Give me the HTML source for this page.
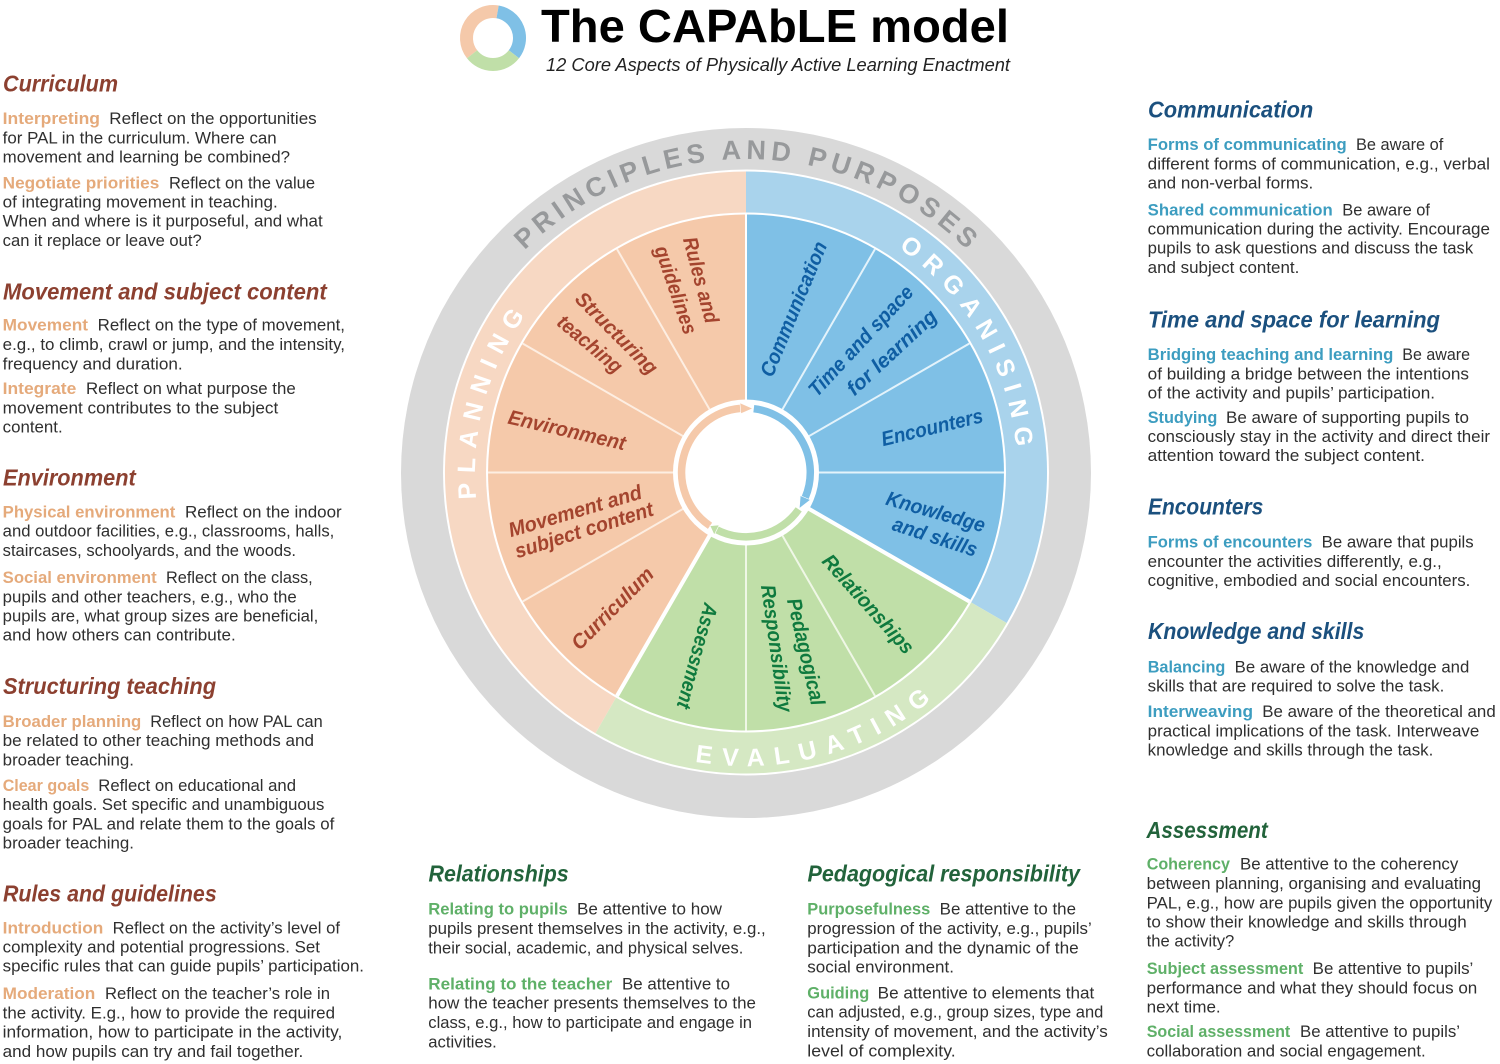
<!DOCTYPE html>
<html lang="en"><head><meta charset="utf-8"><title>The CAPAbLE model</title>
<style>
html,body{margin:0;padding:0;background:#fff}
svg{display:block}
text{font-family:"Liberation Sans",Arial,sans-serif;font-size:16.4px;fill:#2f2f2f}
.hd{font-size:23px;font-weight:bold;font-style:italic}
.ho{fill:#8c4030}.hb{fill:#1b507e}.hg{fill:#22633b}
.o,.b,.g{font-weight:bold}
.o{fill:#e5aa7b}.b{fill:#3d9dc0}.g{fill:#5fb068}
.l{font-size:20.5px;font-weight:bold;font-style:italic;text-anchor:middle}
.lo{fill:#a4442e}.lb{fill:#0f5ea3}.lg{fill:#0f7a3e}
.arc{font-weight:bold;font-size:25px;fill:#fff}
</style></head><body>
<svg xmlns="http://www.w3.org/2000/svg" width="1500" height="1064" viewBox="0 0 1500 1064">
<rect width="1500" height="1064" fill="#fff"/>

<!-- Logo -->
<g fill="none" stroke-width="13">
<path d="M472.1 54.3A26.5 26.5 0 0 1 497.6 11.9" stroke="#f5c9aa"/>
<path d="M497.6 11.9A26.5 26.5 0 0 1 513.9 54.3" stroke="#7fc0e6"/>
<path d="M513.9 54.3A26.5 26.5 0 0 1 472.1 54.3" stroke="#c0dfa8"/>
</g>
<text x="541" y="42" font-size="46" font-weight="bold" style="font-size:46px;fill:#000" textLength="468" lengthAdjust="spacingAndGlyphs">The CAPAbLE model</text>
<text x="546" y="71" style="font-size:18.5px;font-style:italic;fill:#222" textLength="464" lengthAdjust="spacingAndGlyphs">12 Core Aspects of Physically Active Learning Enactment</text>

<!-- Wheel -->
<circle cx="746" cy="473" r="345" fill="#d9d9d9"/>
<circle cx="746" cy="472.5" r="303" fill="#fff"/>
<path d="M746 472.5L595.5 733.2A301 301 0 0 1 746 171.5Z" fill="#f7d8c3"/>
<path d="M746 472.5L746 171.5A301 301 0 0 1 1006.7 623Z" fill="#a9d3ec"/>
<path d="M746 472.5L1006.7 623A301 301 0 0 1 595.5 733.2Z" fill="#d5e8c3"/>
<circle cx="746" cy="472.5" r="260" fill="#fff"/>
<path d="M746 472.5L617 695.9A258 258 0 0 1 746 214.5Z" fill="#f5c9aa"/>
<path d="M746 472.5L746 214.5A258 258 0 0 1 969.4 601.5Z" fill="#7fc0e6"/>
<path d="M746 472.5L969.4 601.5A258 258 0 0 1 617 695.9Z" fill="#c0dfa8"/>
<g stroke-width="2">
<path stroke="#fdeee2" d="M746 472.5L522.6 601.5M746 472.5L488 472.5M746 472.5L522.6 343.5M746 472.5L617 249.1"/>
<path stroke="#e4f3fb" d="M746 472.5L875 249.1M746 472.5L969.4 343.5M746 472.5L1004 472.5"/>
<path stroke="#eff7e6" d="M746 472.5L875 695.9M746 472.5L746 730.5"/>
</g>
<path stroke="#fff" stroke-width="4" d="M746 472.5L969.4 601.5M746 472.5L617 695.9"/>
<path stroke="#fff" stroke-width="2" d="M746 472.5L746 214.5"/>
<circle cx="746" cy="472.5" r="73" fill="#fff"/>
<g fill="none" stroke-width="7.5">
<path d="M710 525.8A64.3 64.3 0 0 1 740.4 408.4" stroke="#f5c9aa"/>
<path d="M753.8 408.7A64.3 64.3 0 0 1 805.2 497.6" stroke="#7fc0e6"/>
<path d="M798.7 509.4A64.3 64.3 0 0 1 716.8 529.8" stroke="#c0dfa8"/>
</g>
<g stroke="#fff" stroke-width="0.6">
<polygon points="740.9,413.7 739.9,402.8 752.7,408.5" fill="#f5c9aa"/>
<polygon points="800.3,495.6 810.4,499.9 799.3,508.5" fill="#7fc0e6"/>
<polygon points="719.2,525 714.2,534.9 710,525.8" fill="#c0dfa8"/>
</g>

<!-- Curved labels -->
<defs>
<path id="p1" d="M474.1 316A314 314 0 0 1 1017.9 316"/>
<path id="p2" d="M898.5 248A271 271 0 0 1 1000.7 565.2"/>
<path id="p3" d="M476.3 498.9A271 271 0 0 1 653.3 218"/>
<path id="p4" d="M695.1 761.6A293 293 0 0 0 1034.6 523.4"/>
</defs>
<text style="font-size:27px;font-weight:bold;fill:#97999b;letter-spacing:4.8px;text-anchor:middle"><textPath href="#p1" startOffset="50.3%">PRINCIPLES AND PURPOSES</textPath></text>
<text class="arc" style="letter-spacing:8.6px"><textPath href="#p2">ORGANISING</textPath></text>
<text class="arc" style="letter-spacing:9px"><textPath href="#p3">PLANNING</textPath></text>
<text class="arc" style="letter-spacing:10.3px"><textPath href="#p4">EVALUATING</textPath></text>

<!-- Sector labels -->
<g class="lab">
<text class="l lo" y="7" transform="translate(701 280) rotate(75)" textLength="88" lengthAdjust="spacingAndGlyphs">Rules and</text>
<text class="l lo" y="7" transform="translate(676 290) rotate(71)" textLength="92" lengthAdjust="spacingAndGlyphs">guidelines</text>
<text class="l lo" y="7" transform="translate(616.7 333) rotate(45)" textLength="107" lengthAdjust="spacingAndGlyphs">Structuring</text>
<text class="l lo" y="7" transform="translate(590 344) rotate(40)" textLength="78" lengthAdjust="spacingAndGlyphs">teaching</text>
<text class="l lo" y="7" transform="translate(567 430) rotate(13)" textLength="120" lengthAdjust="spacingAndGlyphs">Environment</text>
<text class="l lo" y="7" transform="translate(575 511) rotate(-16.5)" textLength="138" lengthAdjust="spacingAndGlyphs">Movement and</text>
<text class="l lo" y="7" transform="translate(584 530) rotate(-17.5)" textLength="144" lengthAdjust="spacingAndGlyphs">subject content</text>
<text class="l lo" y="7" transform="translate(612.4 608.3) rotate(-45)" textLength="107" lengthAdjust="spacingAndGlyphs">Curriculum</text>
<text class="l lg" y="7" transform="translate(697.3 656) rotate(105)" textLength="108" lengthAdjust="spacingAndGlyphs">Assessment</text>
<text class="l lg" y="7" transform="translate(806 651.7) rotate(77)" textLength="109" lengthAdjust="spacingAndGlyphs">Pedagogical</text>
<text class="l lg" y="7" transform="translate(776.7 648.3) rotate(82)" textLength="128" lengthAdjust="spacingAndGlyphs">Responsibility</text>
<text class="l lg" y="7" transform="translate(868.3 604) rotate(48)" textLength="126" lengthAdjust="spacingAndGlyphs">Relationships</text>
<text class="l lb" y="7" transform="translate(935.7 511.7) rotate(16)" textLength="102" lengthAdjust="spacingAndGlyphs">Knowledge</text>
<text class="l lb" y="7" transform="translate(935 536.7) rotate(18)" textLength="88" lengthAdjust="spacingAndGlyphs">and skills</text>
<text class="l lb" y="7" transform="translate(932 427.3) rotate(-13.5)" textLength="104" lengthAdjust="spacingAndGlyphs">Encounters</text>
<text class="l lb" y="7" transform="translate(860.7 340.7) rotate(-47)" textLength="143" lengthAdjust="spacingAndGlyphs">Time and space</text>
<text class="l lb" y="7" transform="translate(891.7 352.3) rotate(-43)" textLength="115" lengthAdjust="spacingAndGlyphs">for learning</text>
<text class="l lb" y="7" transform="translate(793.5 309) rotate(-67.5)" textLength="144" lengthAdjust="spacingAndGlyphs">Communication</text>
</g>

<!-- Left column -->
<text class="hd ho" x="3" y="91.7" textLength="115" lengthAdjust="spacingAndGlyphs">Curriculum</text>
<text class="o" x="2.7" y="124" textLength="97.3" lengthAdjust="spacingAndGlyphs">Interpreting</text>
<text x="109.3" y="124" textLength="207.4" lengthAdjust="spacingAndGlyphs">Reflect on the opportunities</text>
<text x="2.7" y="143.3" textLength="274" lengthAdjust="spacingAndGlyphs">for PAL in the curriculum. Where can</text>
<text x="2.7" y="162.7" textLength="287.3" lengthAdjust="spacingAndGlyphs">movement and learning be combined?</text>
<text class="o" x="2.7" y="188.3" textLength="156.6" lengthAdjust="spacingAndGlyphs">Negotiate priorities</text>
<text x="169" y="188.3" textLength="146" lengthAdjust="spacingAndGlyphs">Reflect on the value</text>
<text x="2.7" y="207.7" textLength="275" lengthAdjust="spacingAndGlyphs">of integrating movement in teaching.</text>
<text x="2.7" y="226.7" textLength="320" lengthAdjust="spacingAndGlyphs">When and where is it purposeful, and what</text>
<text x="2.7" y="246" textLength="199" lengthAdjust="spacingAndGlyphs">can it replace or leave out?</text>

<text class="hd ho" x="3" y="299.3" textLength="323.7" lengthAdjust="spacingAndGlyphs">Movement and subject content</text>
<text class="o" x="2.7" y="330.7" textLength="85.3" lengthAdjust="spacingAndGlyphs">Movement</text>
<text x="97.7" y="330.7" textLength="247.3" lengthAdjust="spacingAndGlyphs">Reflect on the type of movement,</text>
<text x="2.7" y="350" textLength="342.3" lengthAdjust="spacingAndGlyphs">e.g., to climb, crawl or jump, and the intensity,</text>
<text x="2.7" y="369.3" textLength="180" lengthAdjust="spacingAndGlyphs">frequency and duration.</text>
<text class="o" x="2.7" y="394" textLength="73.6" lengthAdjust="spacingAndGlyphs">Integrate</text>
<text x="86" y="394" textLength="209.7" lengthAdjust="spacingAndGlyphs">Reflect on what purpose the</text>
<text x="2.7" y="413.3" textLength="275.6" lengthAdjust="spacingAndGlyphs">movement contributes to the subject</text>
<text x="2.7" y="432.7" textLength="60" lengthAdjust="spacingAndGlyphs">content.</text>

<text class="hd ho" x="3" y="485.7" textLength="132.7" lengthAdjust="spacingAndGlyphs">Environment</text>
<text class="o" x="2.7" y="517.3" textLength="172.6" lengthAdjust="spacingAndGlyphs">Physical environment</text>
<text x="185" y="517.3" textLength="156.7" lengthAdjust="spacingAndGlyphs">Reflect on the indoor</text>
<text x="2.7" y="536.7" textLength="331.6" lengthAdjust="spacingAndGlyphs">and outdoor facilities, e.g., classrooms, halls,</text>
<text x="2.7" y="556" textLength="293.3" lengthAdjust="spacingAndGlyphs">staircases, schoolyards, and the woods.</text>
<text class="o" x="2.7" y="583" textLength="154" lengthAdjust="spacingAndGlyphs">Social environment</text>
<text x="166" y="583" textLength="146.7" lengthAdjust="spacingAndGlyphs">Reflect on the class,</text>
<text x="2.7" y="602.3" textLength="294" lengthAdjust="spacingAndGlyphs">pupils and other teachers, e.g., who the</text>
<text x="2.7" y="621.3" textLength="315.6" lengthAdjust="spacingAndGlyphs">pupils are, what group sizes are beneficial,</text>
<text x="2.7" y="640.3" textLength="233" lengthAdjust="spacingAndGlyphs">and how others can contribute.</text>

<text class="hd ho" x="3" y="694" textLength="213" lengthAdjust="spacingAndGlyphs">Structuring teaching</text>
<text class="o" x="2.7" y="727" textLength="138.6" lengthAdjust="spacingAndGlyphs">Broader planning</text>
<text x="150.3" y="727" textLength="172.4" lengthAdjust="spacingAndGlyphs">Reflect on how PAL can</text>
<text x="2.7" y="746" textLength="311.3" lengthAdjust="spacingAndGlyphs">be related to other teaching methods and</text>
<text x="2.7" y="765.3" textLength="131.3" lengthAdjust="spacingAndGlyphs">broader teaching.</text>
<text class="o" x="2.7" y="791" textLength="86.6" lengthAdjust="spacingAndGlyphs">Clear goals</text>
<text x="98.3" y="791" textLength="197.7" lengthAdjust="spacingAndGlyphs">Reflect on educational and</text>
<text x="2.7" y="810" textLength="321.6" lengthAdjust="spacingAndGlyphs">health goals. Set specific and unambiguous</text>
<text x="2.7" y="829.3" textLength="331.6" lengthAdjust="spacingAndGlyphs">goals for PAL and relate them to the goals of</text>
<text x="2.7" y="848.7" textLength="131.3" lengthAdjust="spacingAndGlyphs">broader teaching.</text>

<text class="hd ho" x="3" y="901.7" textLength="213.7" lengthAdjust="spacingAndGlyphs">Rules and guidelines</text>
<text class="o" x="2.7" y="933.3" textLength="100.6" lengthAdjust="spacingAndGlyphs">Introduction</text>
<text x="112.7" y="933.3" textLength="227.3" lengthAdjust="spacingAndGlyphs">Reflect on the activity’s level of</text>
<text x="2.7" y="952.3" textLength="317.3" lengthAdjust="spacingAndGlyphs">complexity and potential progressions. Set</text>
<text x="2.7" y="971.7" textLength="361.3" lengthAdjust="spacingAndGlyphs">specific rules that can guide pupils’ participation.</text>
<text class="o" x="2.7" y="999" textLength="92.6" lengthAdjust="spacingAndGlyphs">Moderation</text>
<text x="105" y="999" textLength="225" lengthAdjust="spacingAndGlyphs">Reflect on the teacher’s role in</text>
<text x="2.7" y="1018.3" textLength="332.3" lengthAdjust="spacingAndGlyphs">the activity. E.g., how to provide the required</text>
<text x="2.7" y="1037.7" textLength="339.6" lengthAdjust="spacingAndGlyphs">information, how to participate in the activity,</text>
<text x="2.7" y="1057" textLength="300.6" lengthAdjust="spacingAndGlyphs">and how pupils can try and fail together.</text>

<!-- Right column -->
<text class="hd hb" x="1148" y="117.3" textLength="165.3" lengthAdjust="spacingAndGlyphs">Communication</text>
<text class="b" x="1147.7" y="150" textLength="199" lengthAdjust="spacingAndGlyphs">Forms of communicating</text>
<text x="1356" y="150" textLength="87.3" lengthAdjust="spacingAndGlyphs">Be aware of</text>
<text x="1147.7" y="169.3" textLength="342.3" lengthAdjust="spacingAndGlyphs">different forms of communication, e.g., verbal</text>
<text x="1147.7" y="188.7" textLength="165.6" lengthAdjust="spacingAndGlyphs">and non-verbal forms.</text>
<text class="b" x="1147.7" y="215.3" textLength="185" lengthAdjust="spacingAndGlyphs">Shared communication</text>
<text x="1342.3" y="215.3" textLength="87.7" lengthAdjust="spacingAndGlyphs">Be aware of</text>
<text x="1147.7" y="234.3" textLength="342.3" lengthAdjust="spacingAndGlyphs">communication during the activity. Encourage</text>
<text x="1147.7" y="253.7" textLength="325.6" lengthAdjust="spacingAndGlyphs">pupils to ask questions and discuss the task</text>
<text x="1147.7" y="273" textLength="151.6" lengthAdjust="spacingAndGlyphs">and subject content.</text>

<text class="hd hb" x="1148" y="327.3" textLength="292" lengthAdjust="spacingAndGlyphs">Time and space for learning</text>
<text class="b" x="1147.7" y="360" textLength="245.6" lengthAdjust="spacingAndGlyphs">Bridging teaching and learning</text>
<text x="1402.3" y="360" textLength="67.7" lengthAdjust="spacingAndGlyphs">Be aware</text>
<text x="1147.7" y="379.3" textLength="321.3" lengthAdjust="spacingAndGlyphs">of building a bridge between the intentions</text>
<text x="1147.7" y="398.7" textLength="287.3" lengthAdjust="spacingAndGlyphs">of the activity and pupils’ participation.</text>
<text class="b" x="1147.7" y="423" textLength="69.6" lengthAdjust="spacingAndGlyphs">Studying</text>
<text x="1226" y="423" textLength="243" lengthAdjust="spacingAndGlyphs">Be aware of supporting pupils to</text>
<text x="1147.7" y="442" textLength="342.3" lengthAdjust="spacingAndGlyphs">consciously stay in the activity and direct their</text>
<text x="1147.7" y="461" textLength="277.3" lengthAdjust="spacingAndGlyphs">attention toward the subject content.</text>

<text class="hd hb" x="1148" y="514.7" textLength="115.3" lengthAdjust="spacingAndGlyphs">Encounters</text>
<text class="b" x="1147.7" y="547.7" textLength="164.6" lengthAdjust="spacingAndGlyphs">Forms of encounters</text>
<text x="1321.7" y="547.7" textLength="152" lengthAdjust="spacingAndGlyphs">Be aware that pupils</text>
<text x="1147.7" y="567" textLength="294" lengthAdjust="spacingAndGlyphs">encounter the activities differently, e.g.,</text>
<text x="1147.7" y="586" textLength="322.6" lengthAdjust="spacingAndGlyphs">cognitive, embodied and social encounters.</text>

<text class="hd hb" x="1148" y="639" textLength="216.3" lengthAdjust="spacingAndGlyphs">Knowledge and skills</text>
<text class="b" x="1147.7" y="672.3" textLength="77.6" lengthAdjust="spacingAndGlyphs">Balancing</text>
<text x="1234.7" y="672.3" textLength="234.6" lengthAdjust="spacingAndGlyphs">Be aware of the knowledge and</text>
<text x="1147.7" y="691.3" textLength="296.6" lengthAdjust="spacingAndGlyphs">skills that are required to solve the task.</text>
<text class="b" x="1147.7" y="717" textLength="105.3" lengthAdjust="spacingAndGlyphs">Interweaving</text>
<text x="1262.3" y="717" textLength="233.4" lengthAdjust="spacingAndGlyphs">Be aware of the theoretical and</text>
<text x="1147.7" y="736.3" textLength="331.6" lengthAdjust="spacingAndGlyphs">practical implications of the task. Interweave</text>
<text x="1147.7" y="755.7" textLength="285.6" lengthAdjust="spacingAndGlyphs">knowledge and skills through the task.</text>

<text class="hd hg" x="1146.5" y="838" textLength="121.2" lengthAdjust="spacingAndGlyphs">Assessment</text>
<text class="g" x="1146.7" y="869.7" textLength="83.3" lengthAdjust="spacingAndGlyphs">Coherency</text>
<text x="1240" y="869.7" textLength="218.3" lengthAdjust="spacingAndGlyphs">Be attentive to the coherency</text>
<text x="1146.7" y="889" textLength="334.3" lengthAdjust="spacingAndGlyphs">between planning, organising and evaluating</text>
<text x="1146.7" y="908.3" textLength="345.6" lengthAdjust="spacingAndGlyphs">PAL, e.g., how are pupils given the opportunity</text>
<text x="1146.7" y="927.3" textLength="320" lengthAdjust="spacingAndGlyphs">to show their knowledge and skills through</text>
<text x="1146.7" y="946.7" textLength="87.6" lengthAdjust="spacingAndGlyphs">the activity?</text>
<text class="g" x="1146.7" y="974" textLength="156.6" lengthAdjust="spacingAndGlyphs">Subject assessment</text>
<text x="1312.7" y="974" textLength="160.6" lengthAdjust="spacingAndGlyphs">Be attentive to pupils’</text>
<text x="1146.7" y="993.3" textLength="330.6" lengthAdjust="spacingAndGlyphs">performance and what they should focus on</text>
<text x="1146.7" y="1012.3" textLength="74" lengthAdjust="spacingAndGlyphs">next time.</text>
<text class="g" x="1146.7" y="1037" textLength="143.6" lengthAdjust="spacingAndGlyphs">Social assessment</text>
<text x="1300" y="1037" textLength="160" lengthAdjust="spacingAndGlyphs">Be attentive to pupils’</text>
<text x="1146.7" y="1056.3" textLength="279" lengthAdjust="spacingAndGlyphs">collaboration and social engagement.</text>

<!-- Bottom centre -->
<text class="hd hg" x="428.5" y="881.3" textLength="140.2" lengthAdjust="spacingAndGlyphs">Relationships</text>
<text class="g" x="428.3" y="914.7" textLength="139.4" lengthAdjust="spacingAndGlyphs">Relating to pupils</text>
<text x="577" y="914.7" textLength="145" lengthAdjust="spacingAndGlyphs">Be attentive to how</text>
<text x="428.3" y="934" textLength="337.4" lengthAdjust="spacingAndGlyphs">pupils present themselves in the activity, e.g.,</text>
<text x="428.3" y="953.3" textLength="315" lengthAdjust="spacingAndGlyphs">their social, academic, and physical selves.</text>
<text class="g" x="428.3" y="989.3" textLength="184" lengthAdjust="spacingAndGlyphs">Relating to the teacher</text>
<text x="622" y="989.3" textLength="108" lengthAdjust="spacingAndGlyphs">Be attentive to</text>
<text x="428.3" y="1008.7" textLength="327.7" lengthAdjust="spacingAndGlyphs">how the teacher presents themselves to the</text>
<text x="428.3" y="1028" textLength="323.7" lengthAdjust="spacingAndGlyphs">class, e.g., how to participate and engage in</text>
<text x="428.3" y="1047.3" textLength="68.4" lengthAdjust="spacingAndGlyphs">activities.</text>

<text class="hd hg" x="807.5" y="881.7" textLength="272.5" lengthAdjust="spacingAndGlyphs">Pedagogical responsibility</text>
<text class="g" x="807.3" y="914.7" textLength="123" lengthAdjust="spacingAndGlyphs">Purposefulness</text>
<text x="939.7" y="914.7" textLength="136.3" lengthAdjust="spacingAndGlyphs">Be attentive to the</text>
<text x="807.3" y="934" textLength="284.4" lengthAdjust="spacingAndGlyphs">progression of the activity, e.g., pupils’</text>
<text x="807.3" y="953.3" textLength="271.4" lengthAdjust="spacingAndGlyphs">participation and the dynamic of the</text>
<text x="807.3" y="972.7" textLength="146.7" lengthAdjust="spacingAndGlyphs">social environment.</text>
<text class="g" x="807.3" y="998.3" textLength="62" lengthAdjust="spacingAndGlyphs">Guiding</text>
<text x="877.7" y="998.3" textLength="216.6" lengthAdjust="spacingAndGlyphs">Be attentive to elements that</text>
<text x="807.3" y="1017.7" textLength="296" lengthAdjust="spacingAndGlyphs">can adjusted, e.g., group sizes, type and</text>
<text x="807.3" y="1037" textLength="300.4" lengthAdjust="spacingAndGlyphs">intensity of movement, and the activity’s</text>
<text x="807.3" y="1056.3" textLength="148.4" lengthAdjust="spacingAndGlyphs">level of complexity.</text>
</svg>
</body></html>
